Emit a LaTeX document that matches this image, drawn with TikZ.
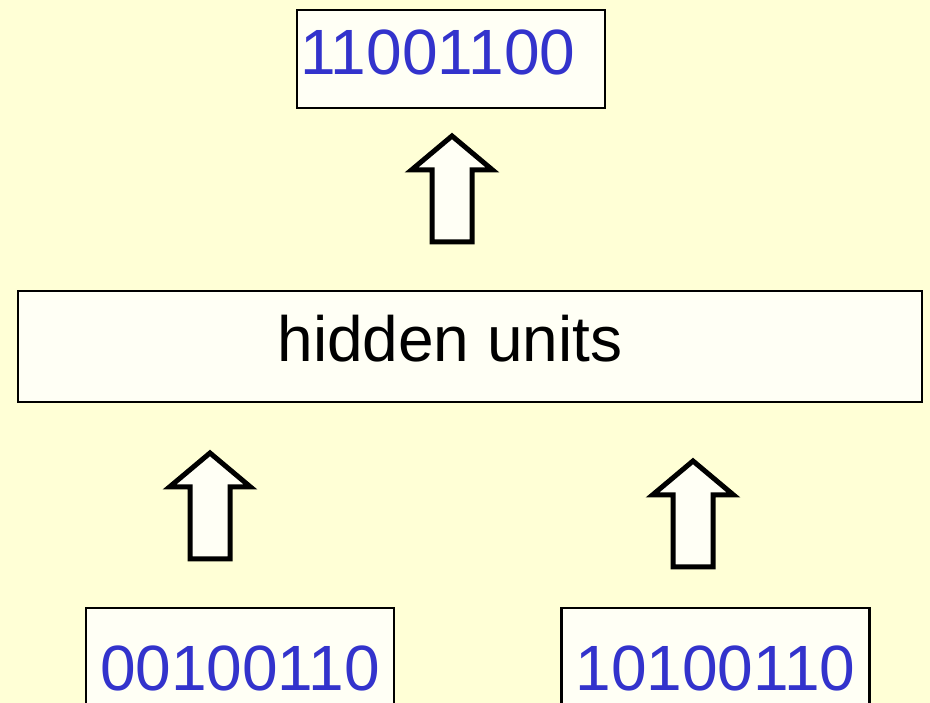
\documentclass[tikz,border=0pt]{standalone}
\usepackage{fontspec}
\setmainfont{Liberation Sans}
\usetikzlibrary{positioning,shapes.arrows}
\definecolor{slidebg}{RGB}{255,255,214}
\definecolor{boxfill}{RGB}{255,255,245}
\definecolor{bitblue}{RGB}{51,51,204}

\begin{document}
\begin{tikzpicture}[
		x=1pt, y=1pt,
		node distance=165pt,
		bitbox/.style={draw, line width=2.5pt, fill=boxfill, text=bitblue,
			font=\fontsize{64}{72}\selectfont, text height=46pt, text depth=15pt,
			minimum width=308pt, inner sep=0pt},
		layerbox/.style={bitbox, text=black, minimum width=904pt, minimum height=111pt},
		blockup/.style={single arrow, draw, line width=5pt, fill=boxfill,
			shape border rotate=90, single arrow tip angle=100,
			single arrow head extend=20.5pt, inner sep=17.5pt,
			minimum height=106pt, minimum width=76pt, anchor=tail},
	]
		\useasboundingbox (0,0) rectangle (930,703);
		\clip (0,0) rectangle (930,703);
		\fill[slidebg] (0,0) rectangle (930,703);

		\node [bitbox, minimum height=98pt, inner xsep=3pt, text width=302pt, align=left] (out) at (451,644) {11001100};
		\node [layerbox] (hidden) at (470,356.5) {\hspace*{-40pt}hidden units};
		\node [bitbox, minimum height=134pt] (in1) at (240,28) {00100110};
		\node [bitbox, minimum height=134pt, right=of in1] (in2) {10100110};

		\node [blockup] (up1) at (452,458.5) {};
		\node [blockup] (up2) at (210,141.5) {};
		\node [blockup] (up3) at (693,133.5) {};
	\end{tikzpicture}
\end{document}
